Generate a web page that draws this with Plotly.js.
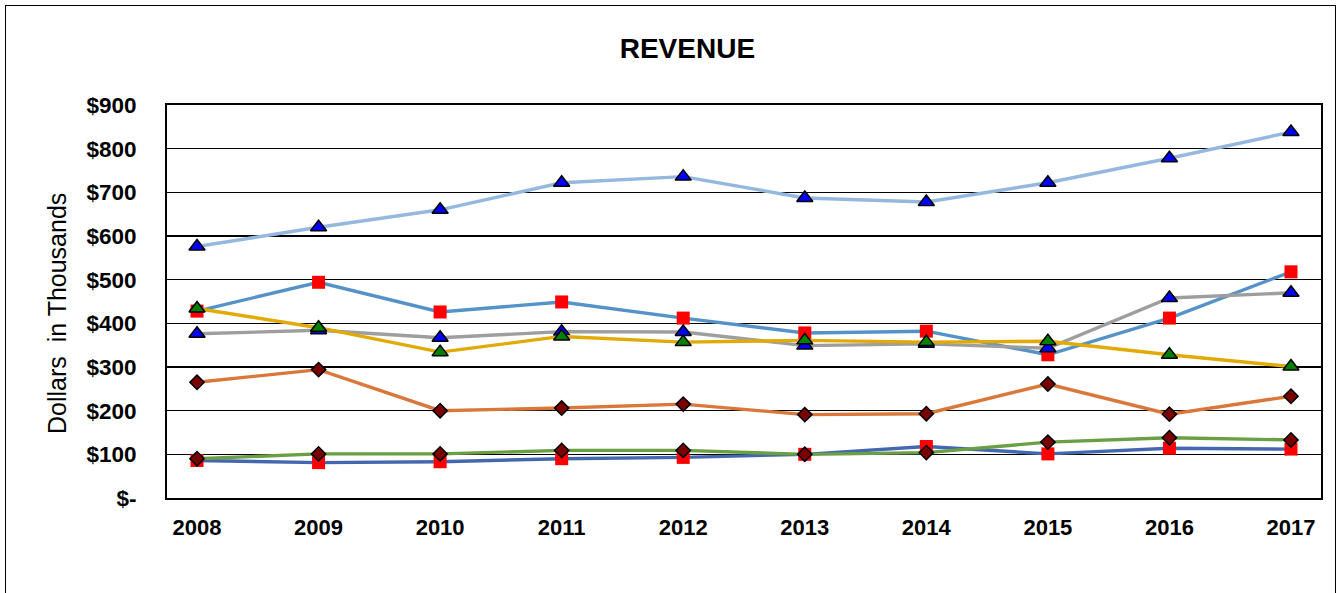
<!DOCTYPE html>
<html>
<head>
<meta charset="utf-8">
<script src="https://cdn.plot.ly/plotly-3.0.1.min.js"></script>
<style>
  html, body { margin: 0; padding: 0; background: #fff; }
  #wrap { position: relative; width: 1340px; height: 593px; overflow: hidden; }
  #chart { width: 1340px; height: 593px; }
  #frame { position: absolute; left: 5px; top: 5px; width: 1331px; height: 620px;
           border: 1.5px solid #000; pointer-events: none; box-sizing: border-box; }
</style>
</head>
<body>
<div id="wrap"><div id="chart"></div><div id="frame"></div></div>
<script>
const years = ['2008','2009','2010','2011','2012','2013','2014','2015','2016','2017'];
const yTickVals = [0,100,200,300,400,500,600,700,800,900];
const yTickText = ['$-','$100','$200','$300','$400','$500','$600','$700','$800','$900'];

const seriesA = [576, 620, 660, 722, 736, 687, 678, 722, 778, 838];   // light blue, blue triangles
const seriesB = [428, 494, 426, 449, 412, 378, 382, 328, 412, 518];   // steel blue, red squares
const seriesC = [376, 384, 367, 381, 380, 349, 353, 343, 458, 470];   // gray, blue triangles
const seriesD = [434, 390, 334, 370, 357, 361, 357, 359, 328, 301];   // gold, green triangles
const seriesE = [265, 294, 200, 206, 215, 191, 193, 261, 192, 233];   // orange, dark red diamonds
const seriesG = [86, 81, 83, 90, 93, 100, 118, 101, 114, 112];        // dark blue, red squares
const seriesF = [90, 101, 101, 109, 109, 100, 104, 128, 138, 133];    // green, dark red diamonds

const xi = years.map((_, i) => i);
const FONT = 'Liberation Sans, Arial, sans-serif';

function tr(y, lineColor, sym, fill, outline) {
  return {
    x: xi, y: y, type: 'scatter', mode: 'lines+markers',
    line: { color: lineColor, width: 3.4 },
    marker: {
      symbol: sym, size: sym === 'square' ? 13 : (sym === 'diamond' ? 11 : 14),
      color: fill,
      line: { color: outline ? '#000' : fill, width: outline ? 1.5 : 0 }
    },
    hoverinfo: 'y', showlegend: false
  };
}

const data = [
  tr(seriesA, '#95B8DF', 'triangle-up', '#0000FF', true),
  tr(seriesB, '#5592C8', 'square', '#FF0000', false),
  tr(seriesC, '#9E9E9E', 'triangle-up', '#0000FF', true),
  tr(seriesD, '#E2AA06', 'triangle-up', '#008000', true),
  tr(seriesE, '#D9783A', 'diamond', '#7A0000', true),
  tr(seriesG, '#4468B0', 'square', '#FF0000', false),
  tr(seriesF, '#6A9F45', 'diamond', '#7A0000', true)
];

// plot area: x 167..1321, y 105..498
const layout = {
  width: 1340, height: 593,
  margin: { l: 167, r: 19, t: 105, b: 95 },
  paper_bgcolor: '#fff', plot_bgcolor: '#fff',
  title: { text: '<b>REVENUE</b>', x: 0.513, xanchor: 'center', y: 0.918, yanchor: 'middle',
           font: { family: FONT, size: 28, color: '#000' } },
  xaxis: {
    range: [-0.247, 9.247], tickmode: 'array', tickvals: xi,
    ticktext: years.map(t => '<b>' + t + '</b>'),
    showgrid: false, zeroline: false, showline: true, linecolor: '#000', linewidth: 2,
    mirror: true, ticks: '', ticklabelstandoff: 9,
    tickfont: { family: FONT, size: 22, color: '#000' }
  },
  yaxis: {
    range: [0, 900], tickmode: 'array', tickvals: yTickVals,
    ticktext: yTickText.map(t => '<b>' + t + '</b>'),
    showgrid: true, gridcolor: '#000', gridwidth: 1.5, zeroline: false,
    showline: true, linecolor: '#000', linewidth: 2, mirror: true, ticks: '',
    ticklabelstandoff: 24,
    tickfont: { family: FONT, size: 22.5, color: '#000' }
  },
  annotations: [{
    text: 'Dollars  in Thousands', textangle: -90, showarrow: false,
    xref: 'paper', yref: 'paper',
    x: (57 - 167) / 1154, y: (498 - 314) / 393,
    xanchor: 'center', yanchor: 'middle',
    font: { family: FONT, size: 25, color: '#000' }
  }],
  showlegend: false
};

Plotly.newPlot('chart', data, layout, { displayModeBar: false, staticPlot: true });
</script>
</body>
</html>
